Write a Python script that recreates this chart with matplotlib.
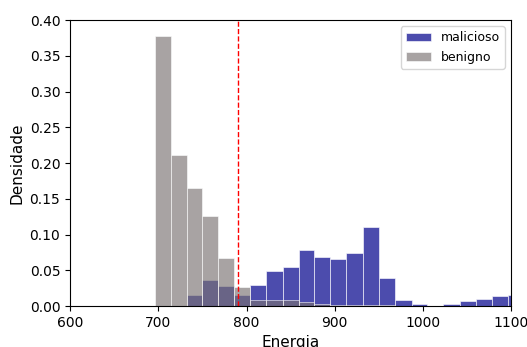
import numpy as np
import matplotlib.pyplot as plt

# bin edges (Energia)
edges = [696, 714, 732, 750, 768, 786, 804, 822, 841, 859, 877, 895, 913,
         932, 950, 968, 987, 1005, 1023, 1042, 1060, 1078, 1096, 1114]

malicioso = [0.0, 0.0, 0.0154, 0.037, 0.0285, 0.0154, 0.030, 0.0486, 0.0547,
             0.078, 0.069, 0.0655, 0.074, 0.111, 0.039, 0.008, 0.003, 0.0005,
             0.0025, 0.0066, 0.0098, 0.014, 0.0154]
benigno = [0.378, 0.212, 0.165, 0.126, 0.067, 0.026, 0.008, 0.008, 0.008,
           0.005, 0.003, 0.002, 0.002, 0.002, 0.001, 0.0, 0.0, 0.0,
           0.0, 0.0, 0.0, 0.0, 0.0]

limiar = 790

fig = plt.figure(figsize=(5.27, 3.47), dpi=100)
ax = fig.add_axes([0.133, 0.118, 0.837, 0.824])

ax.hist(edges[:-1], bins=edges, weights=malicioso, color='#00008b', alpha=0.7,
        edgecolor='white', linewidth=0.6, label='malicioso')
ax.hist(edges[:-1], bins=edges, weights=benigno, color='#7a7272', alpha=0.65,
        edgecolor='white', linewidth=0.6, label='benigno')
ax.axvline(limiar, color='red', linestyle='--', linewidth=1)

ax.set_xlim(600, 1100)
ax.set_ylim(0, 0.40)
ax.set_yticks(np.arange(0, 0.41, 0.05))
ax.set_xlabel('Energia', fontsize=11)
ax.set_ylabel('Densidade', fontsize=11)
ax.legend(loc='upper right', fontsize=9)

fig.savefig('out.png', dpi=100)
